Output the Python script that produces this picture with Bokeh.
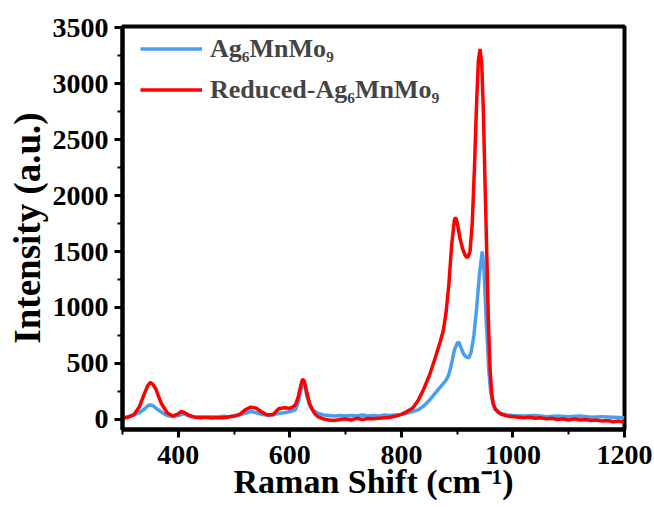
from bokeh.plotting import figure
from bokeh.models import SingleIntervalTicker, Legend, LegendItem, Range1d
from bokeh.embed import file_html
from bokeh.resources import INLINE

# Ag6MnMo9 (blue)
blue_x = [300, 310, 320, 330, 340, 345, 350, 355, 360, 370, 380, 390, 400, 410, 420, 430, 440, 450, 460, 470,
          480, 490, 500, 510, 520, 530, 540, 550, 560, 570, 580, 590, 600, 610, 615, 620, 624, 627, 630, 635,
          640, 650, 660, 670, 680, 690, 700, 710, 720, 730, 740, 750, 760, 770, 780, 790, 800, 810, 820, 830,
          840, 850, 860, 870, 880, 885, 890, 895, 900, 903, 907, 912, 917, 921, 925, 930, 935, 940, 945, 948,
          951, 954, 957, 960, 964, 968, 975, 980, 990, 1000, 1020, 1040, 1060, 1080, 1100, 1120, 1140, 1160,
          1180, 1200]
blue_y = [20, 25, 40, 60, 95, 120, 130, 120, 100, 65, 35, 25, 35, 50, 30, 20, 25, 20, 25, 20,
          28, 25, 30, 40, 55, 70, 60, 45, 40, 40, 55, 60, 70, 85, 150, 260, 330, 300, 220, 130,
          90, 55, 40, 35, 30, 35, 30, 35, 30, 40, 30, 35, 30, 40, 35, 40, 45, 55, 70, 85,
          120, 170, 230, 290, 350, 400, 500, 620, 680, 690, 640, 580, 555, 550, 600, 750, 1000, 1300, 1500, 1350,
          1000, 700, 420, 250, 140, 90, 60, 50, 40, 35, 30, 35, 25, 30, 25, 30, 20, 25,
          20, 15]

# Reduced-Ag6MnMo9 (red)
red_x = [300, 310, 320, 330, 340, 345, 350, 355, 360, 365, 370, 380, 390, 400, 405, 410, 420, 430, 440, 450,
         460, 470, 480, 490, 500, 510, 520, 530, 540, 550, 560, 570, 580, 590, 600, 605, 610, 615, 620, 623,
         626, 630, 635, 640, 645, 650, 660, 670, 680, 690, 700, 710, 720, 730, 740, 750, 760, 770, 780, 790,
         800, 810, 820, 830, 840, 850, 860, 870, 875, 880, 885, 890, 895, 897, 900, 905, 910, 915, 919, 923,
         927, 931, 935, 938, 941, 944, 947, 950, 953, 956, 959, 962, 965, 969, 975, 980, 990, 1000, 1010, 1020,
         1030, 1040, 1050, 1060, 1070, 1080, 1090, 1100, 1110, 1120, 1130, 1140, 1150, 1160, 1170, 1180, 1190, 1200]
red_y = [10, 20, 40, 110, 240, 300, 330, 310, 270, 200, 140, 60, 30, 50, 70, 65, 35, 20, 15, 20,
         12, 18, 15, 22, 30, 45, 85, 110, 100, 65, 40, 45, 95, 105, 100, 110, 130, 200, 310, 360,
         340, 250, 150, 90, 50, 25, 5, -5, -10, 0, 5, -5, 10, 0, 8, 5, 10, 15, 20, 30,
         45, 70, 100, 170, 270, 390, 540, 700, 790, 950, 1200, 1550, 1780, 1805, 1760, 1620, 1520, 1460, 1445, 1500,
         1750, 2250, 2850, 3200, 3310, 3180, 2750, 2100, 1500, 880, 450, 230, 135, 90, 60, 45, 30, 25, 20, 15,
         20, 10, 15, 5, 10, 0, 5, -5, 5, -5, 0, -10, -5, -15, -10, -20, -15, -25]

x_label = "Raman Shift (cm⁻¹)"
y_label = "Intensity (a.u.)"
names = ["Ag₆MnMo₉", "Reduced-Ag₆MnMo₉"]

FONT = "Liberation Serif"

p = figure(width=654, height=507, output_backend="svg", toolbar_location=None,
           x_range=Range1d(300, 1200), y_range=Range1d(-90, 3510),
           min_border_left=122, min_border_right=30, min_border_top=26, min_border_bottom=78)
p.background_fill_color = "white"
p.border_fill_color = "white"
p.grid.visible = False
p.outline_line_color = "black"
p.outline_line_width = 4

rb = p.line(blue_x, blue_y, line_color="#4A9EF0", line_width=3.5)
rr = p.line(red_x, red_y, line_color="#FF0000", line_width=3.5)

p.xaxis.ticker = SingleIntervalTicker(interval=200, num_minor_ticks=2)
p.yaxis.ticker = SingleIntervalTicker(interval=500, num_minor_ticks=2)

for ax in (p.xaxis[0], p.yaxis[0]):
    ax.axis_line_width = 4
    ax.axis_line_color = "black"
    ax.major_tick_line_width = 3
    ax.major_tick_out = 8
    ax.major_tick_in = 0
    ax.minor_tick_line_width = 2
    ax.minor_tick_out = 5
    ax.minor_tick_in = 0
    ax.major_label_text_font = FONT
    ax.major_label_text_font_style = "bold"
    ax.major_label_text_font_size = "28px"
    ax.major_label_text_color = "black"
    ax.axis_label_text_font = FONT
    ax.axis_label_text_font_style = "bold"
    ax.axis_label_text_color = "black"

p.xaxis.axis_label = x_label
p.yaxis.axis_label = y_label
p.xaxis.axis_label_text_font_size = "34px"
p.yaxis.axis_label_text_font_size = "37px"
p.xaxis.major_label_standoff = 8
p.xaxis.axis_label_standoff = -4
p.yaxis.major_label_standoff = 6
p.yaxis.axis_label_standoff = 2

legend = Legend(items=[LegendItem(label=names[0], renderers=[rb]),
                       LegendItem(label=names[1], renderers=[rr])],
                location=(18, 322), margin=0, padding=0, spacing=6,
                glyph_width=62, glyph_height=35, label_height=35, label_standoff=8,
                label_text_font=FONT, label_text_font_style="bold", label_text_font_size="26px",
                border_line_color=None, background_fill_alpha=0)
p.add_layout(legend)

open("out.html", "w").write(file_html(p, INLINE))
